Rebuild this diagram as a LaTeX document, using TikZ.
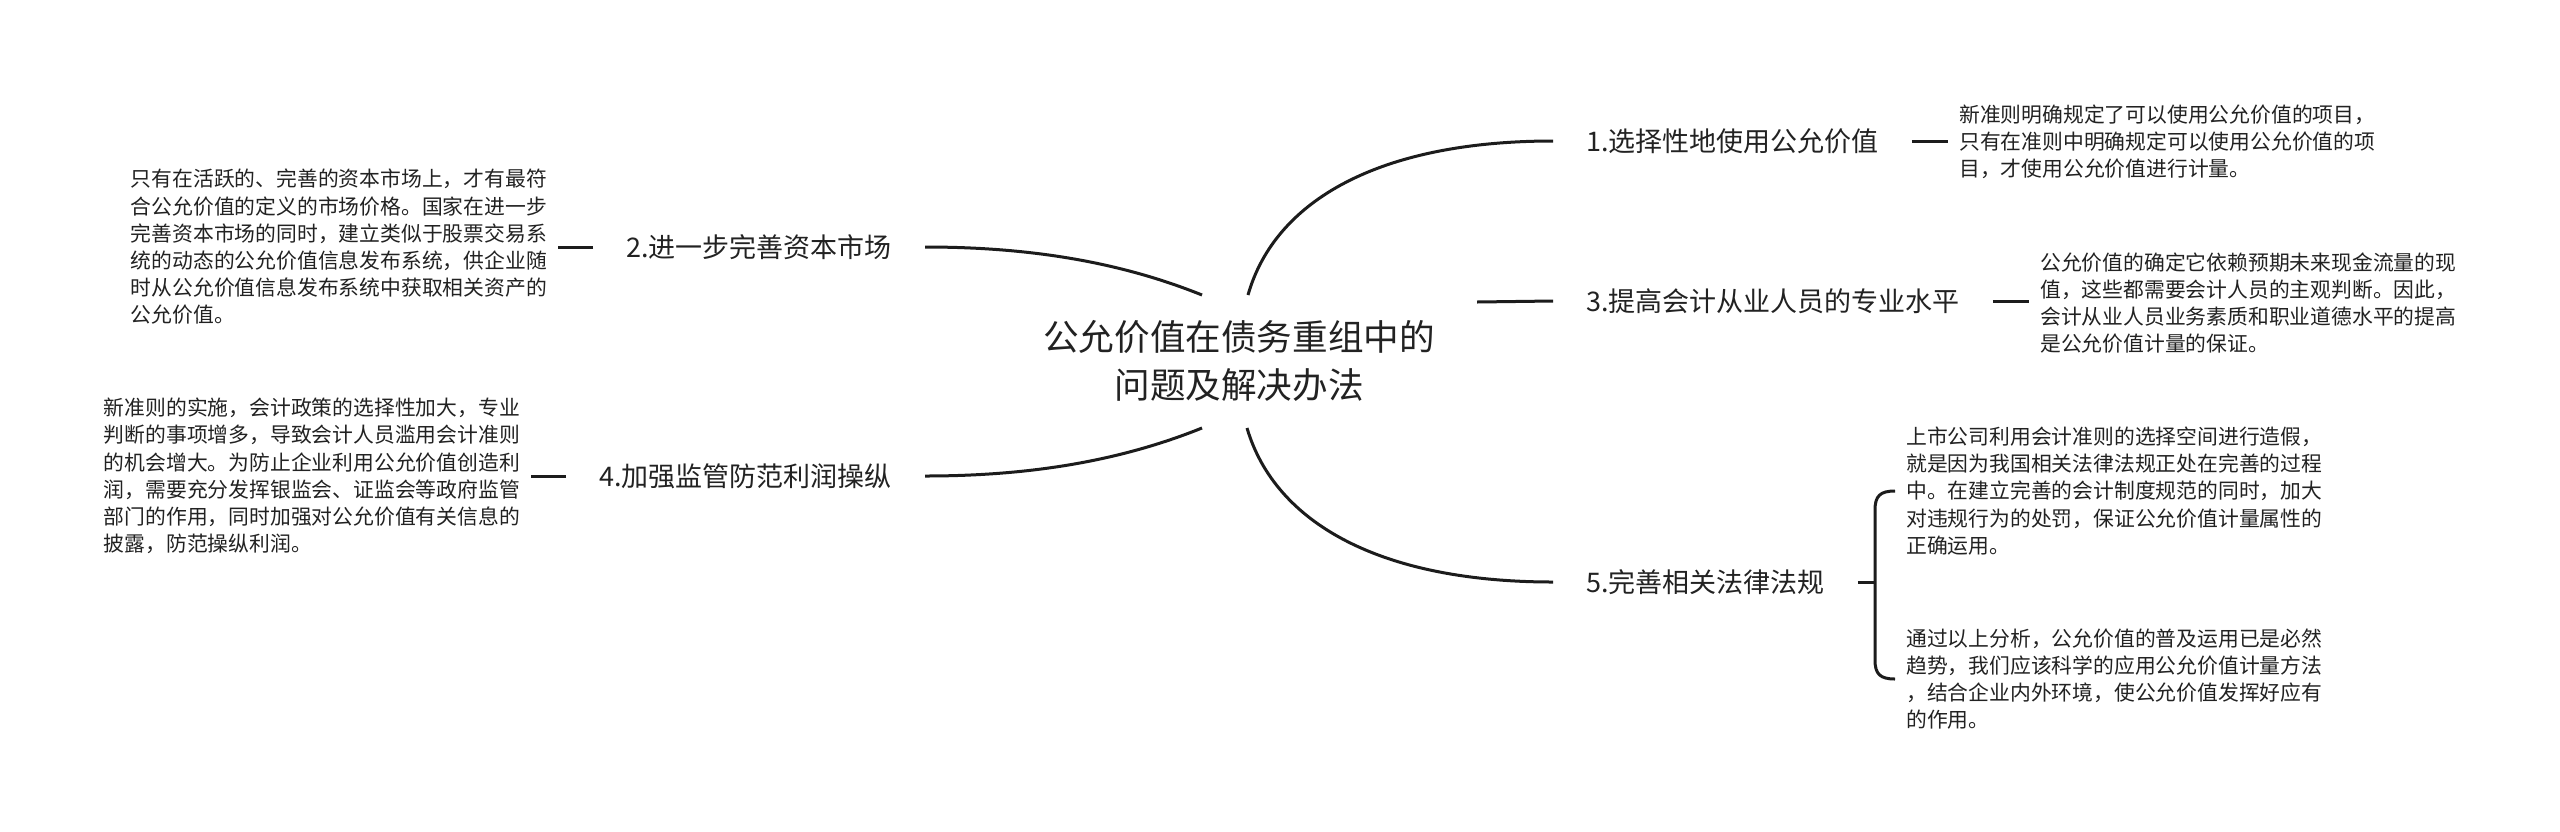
\documentclass[tikz,border=0pt]{standalone}
\usepackage{fontspec}
\setmainfont{Noto Sans CJK SC}
\definecolor{textc}{RGB}{34,34,34}
\definecolor{linec}{RGB}{28,28,28}
\begin{document}
\begin{tikzpicture}[x=1pt,y=-1pt,
  conn/.style={line width=3pt, draw=linec},
  rootnode/.style={font=\fontsize{35.6}{48}\selectfont, align=center, inner sep=0pt, text=textc},
  branch/.style={font=\fontsize{27}{32}\selectfont, inner xsep=33pt, inner ysep=4pt, text=textc},
  leaf/.style={font=\fontsize{20.8}{27.2}\selectfont, align=left, inner xsep=11pt, inner ysep=0pt, text=textc},
]
\useasboundingbox (0,0) rectangle (2560,831);
\fill[white] (0,0) rectangle (2560,831);

\node[rootnode] (root) at (1239,361) {公允价值在债务重组中的\\问题及解决办法};

\node[branch, anchor=west] (b1) at (1553,141) {1.选择性地使用公允价值};
\node[branch, anchor=west] (b3) at (1553,301) {3.提高会计从业人员的专业水平};
\node[branch, anchor=west] (b5) at (1553,582) {5.完善相关法律法规};
\node[branch, anchor=east] (b2) at (925,247) {2.进一步完善资本市场};
\node[branch, anchor=east] (b4) at (925,476) {4.加强监管防范利润操纵};

\node[leaf, anchor=west] (l1) at (1948,142) {新准则明确规定了可以使用公允价值的项目，\\只有在准则中明确规定可以使用公允价值的项\\目，才使用公允价值进行计量。};
\node[leaf, anchor=west] (l3) at (2029,303) {公允价值的确定它依赖预期未来现金流量的现\\值，这些都需要会计人员的主观判断。因此，\\会计从业人员业务素质和职业道德水平的提高\\是公允价值计量的保证。};
\node[leaf, anchor=west] (l5a) at (1895,491) {上市公司利用会计准则的选择空间进行造假，\\就是因为我国相关法律法规正处在完善的过程\\中。在建立完善的会计制度规范的同时，加大\\对违规行为的处罚，保证公允价值计量属性的\\正确运用。};
\node[leaf, anchor=west] (l5b) at (1895,679) {通过以上分析，公允价值的普及运用已是必然\\趋势，我们应该科学的应用公允价值计量方法\\，结合企业内外环境，使公允价值发挥好应有\\的作用。};
\node[leaf, anchor=east] (l2) at (558,247) {只有在活跃的、完善的资本市场上，才有最符\\合公允价值的定义的市场价格。国家在进一步\\完善资本市场的同时，建立类似于股票交易系\\统的动态的公允价值信息发布系统，供企业随\\时从公允价值信息发布系统中获取相关资产的\\公允价值。};
\node[leaf, anchor=east] (l4) at (531,476) {新准则的实施，会计政策的选择性加大，专业\\判断的事项增多，导致会计人员滥用会计准则\\的机会增大。为防止企业利用公允价值创造利\\润，需要充分发挥银监会、证监会等政府监管\\部门的作用，同时加强对公允价值有关信息的\\披露，防范操纵利润。};

\coordinate (rt1) at (1248,295);
\coordinate (rt2) at (1202,295);
\coordinate (rb1) at (1247,428);
\coordinate (rb2) at (1202,428);
\coordinate (r3) at (1477,302);
\coordinate (bm) at (1875,582);

\draw[conn] (rt1) .. controls (1275,200) and (1380,141) .. (b1.west);
\draw[conn] (r3) -- (b3.west);
\draw[conn] (rb1) .. controls (1275,523) and (1380,582) .. (b5.west);
\draw[conn] (rt2) .. controls (1120,262) and (1030,247) .. (b2.east);
\draw[conn] (rb2) .. controls (1120,461) and (1030,476) .. (b4.east);

\draw[conn] (b1.east) -- (l1.west |- b1.east);
\draw[conn] (b3.east) -- (l3.west |- b3.east);
\draw[conn] (b2.west) -- (l2.east |- b2.west);
\draw[conn] (b4.west) -- (l4.east |- b4.west);
\draw[conn] (b5.east) -- (bm);
\draw[conn] (l5a.west) .. controls (1880,491) and (1875,496) .. (1875,510) -- (1875,660) .. controls (1875,674) and (1880,679) .. (l5b.west);
\end{tikzpicture}
\end{document}
